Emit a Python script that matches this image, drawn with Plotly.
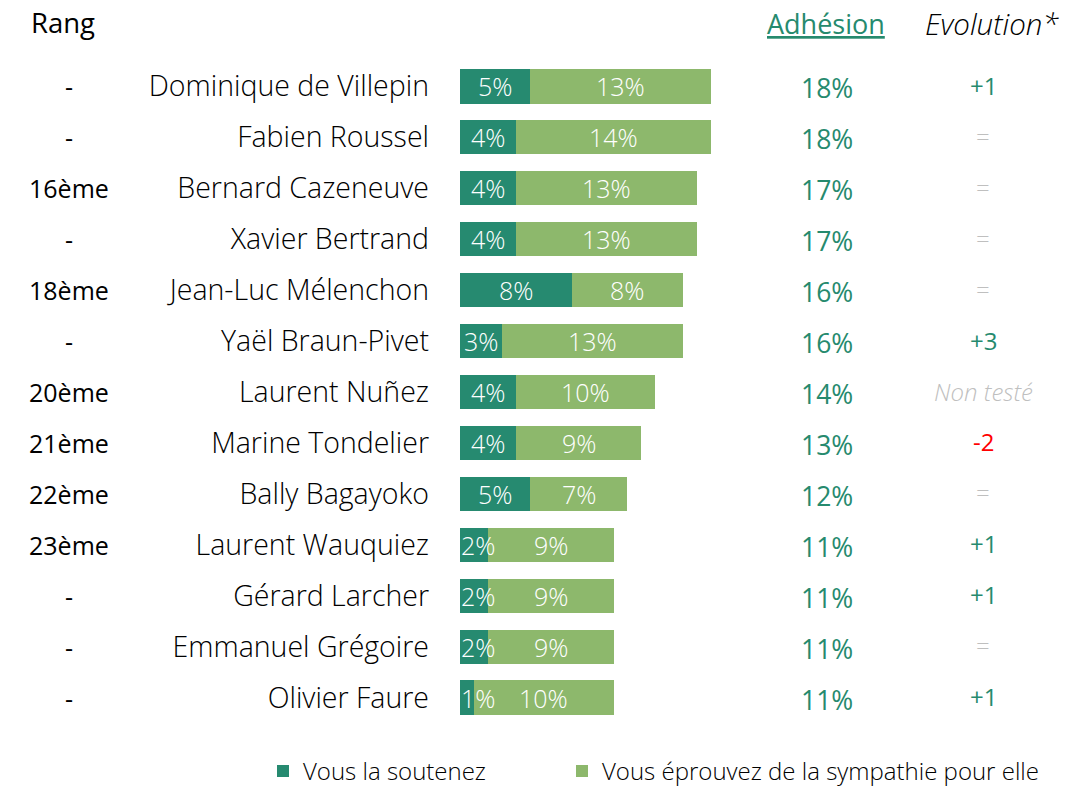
import plotly.graph_objects as go

names = ["Dominique de Villepin", "Fabien Roussel", "Bernard Cazeneuve", "Xavier Bertrand",
         "Jean-Luc Mélenchon", "Yaël Braun-Pivet", "Laurent Nuñez", "Marine Tondelier",
         "Bally Bagayoko", "Laurent Wauquiez", "Gérard Larcher", "Emmanuel Grégoire", "Olivier Faure"]
soutien = [5, 4, 4, 4, 8, 3, 4, 4, 5, 2, 2, 2, 1]
sympathie = [13, 14, 13, 13, 8, 13, 10, 9, 7, 9, 9, 9, 10]
adhesion = [18, 18, 17, 17, 16, 16, 14, 13, 12, 11, 11, 11, 11]
evolution = ["+1", "=", "=", "=", "=", "+3", "Non testé", "-2", "=", "+1", "+1", "=", "+1"]
rang = ["-", "-", "16ème", "-", "18ème", "-", "20ème", "21ème", "22ème", "23ème", "-", "-", "-"]

DARK = "#268A70"
LIGHT = "#8DB86C"
TXT_GREEN = "#268A6E"
GREY = "#BFBFBF"
RED = "#FF0000"
FONT = "Open Sans"

W, H = 1074, 795
ML = 460
MT = 60.5
PLOT_BOTTOM = 723.5
MB = H - PLOT_BOTTOM
MR = 0
PW = W - ML - MR
PH = H - MT - MB
XMAX = 44.0
PXPER = PW / XMAX


def px_x(page_px):
    return (page_px - ML) / PW


def px_y(page_py):
    return 1 - (page_py - MT) / PH


fig = go.Figure()
fig.add_trace(go.Bar(
    y=names, x=soutien, orientation="h", name="Vous la soutenez",
    marker=dict(color=DARK, line=dict(width=0)), legend="legend",
))
fig.add_trace(go.Bar(
    y=names, x=sympathie, orientation="h", name="Vous éprouvez de la sympathie pour elle",
    marker=dict(color=LIGHT, line=dict(width=0)), legend="legend2",
))

annotations = []
LBL_FONT = dict(family=FONT, size=25, color="white", weight=300)
for n, s, y in zip(names, soutien, sympathie):
    if s < 3:
        annotations.append(dict(x=0, y=n, xref="x", yref="y", text=f"{s}%", showarrow=False,
                                xanchor="left", yanchor="middle", xshift=-1, font=LBL_FONT))
    else:
        annotations.append(dict(x=s / 2, y=n, xref="x", yref="y", text=f"{s}%", showarrow=False,
                                xanchor="center", yanchor="middle", font=LBL_FONT))
    annotations.append(dict(x=s + y / 2, y=n, xref="x", yref="y", text=f"{y}%", showarrow=False,
                            xanchor="center", yanchor="middle", font=LBL_FONT))

ADH_X = (827 - ML) / PXPER
EVO_X = (983 - ML) / PXPER
for n, a, e, r in zip(names, adhesion, evolution, rang):
    annotations.append(dict(x=ADH_X, y=n, xref="x", yref="y", text=f"{a}%", showarrow=False,
                            xanchor="center", yanchor="middle", yshift=-2,
                            font=dict(family=FONT, size=26.5, color=TXT_GREEN, weight=500)))
    if e == "Non testé":
        col, txt, wt = GREY, "<i>Non testé</i>", 300
    elif e == "=":
        col, txt, wt = GREY, e, 300
    elif e.startswith("-"):
        col, txt, wt = RED, e, 400
    else:
        col, txt, wt = TXT_GREEN, e, 400
    annotations.append(dict(x=EVO_X, y=n, xref="x", yref="y", text=txt, showarrow=False,
                            xanchor="center", yanchor="middle", yshift=1,
                            font=dict(family=FONT, size=24, color=col, weight=wt)))
    annotations.append(dict(x=px_x(69), y=n, xref="paper", yref="y", text=r, showarrow=False,
                            xanchor="center", yanchor="middle",
                            font=dict(family=FONT, size=25, color="black")))

annotations.append(dict(x=px_x(29), y=px_y(22), xref="paper", yref="paper",
                        text="Rang", showarrow=False, xanchor="left", yanchor="middle",
                        font=dict(family=FONT, size=27.5, color="black")))
annotations.append(dict(x=px_x(826), y=px_y(23), xref="paper", yref="paper",
                        text="<u>Adhésion</u>", showarrow=False, xanchor="center", yanchor="middle",
                        font=dict(family=FONT, size=27, color=TXT_GREEN)))
annotations.append(dict(x=px_x(992), y=px_y(23), xref="paper", yref="paper",
                        text="<i>Evolution*</i>", showarrow=False, xanchor="center", yanchor="middle",
                        font=dict(family=FONT, size=29.5, color="black", weight=300)))

LEG_FONT = dict(family=FONT, size=24, color="black", weight=300)
fig.update_layout(
    template="none",
    width=W, height=H,
    margin=dict(l=ML, r=MR, t=MT, b=MB, pad=0),
    barmode="stack", bargap=0.33,
    plot_bgcolor="white", paper_bgcolor="white",
    font=dict(family=FONT, size=24, color="black"),
    xaxis=dict(range=[0, XMAX], visible=False, fixedrange=True, automargin=False),
    yaxis=dict(autorange="reversed", showgrid=False, showline=False, zeroline=False,
               ticks="", ticklabelstandoff=30, automargin=False, fixedrange=True,
               tickfont=dict(family=FONT, size=28.5, color="black", weight=300)),
    legend=dict(orientation="h", x=px_x(263), xanchor="left",
                y=px_y(772), yanchor="middle", font=LEG_FONT, itemwidth=30,
                bgcolor="rgba(0,0,0,0)"),
    legend2=dict(orientation="h", x=px_x(562), xanchor="left",
                 y=px_y(772), yanchor="middle", font=LEG_FONT, itemwidth=30,
                 bgcolor="rgba(0,0,0,0)"),
    annotations=annotations,
    showlegend=True,
)

fig.write_html("out.html", config={"displayModeBar": False},
               post_script="document.body.style.margin='0px';")
